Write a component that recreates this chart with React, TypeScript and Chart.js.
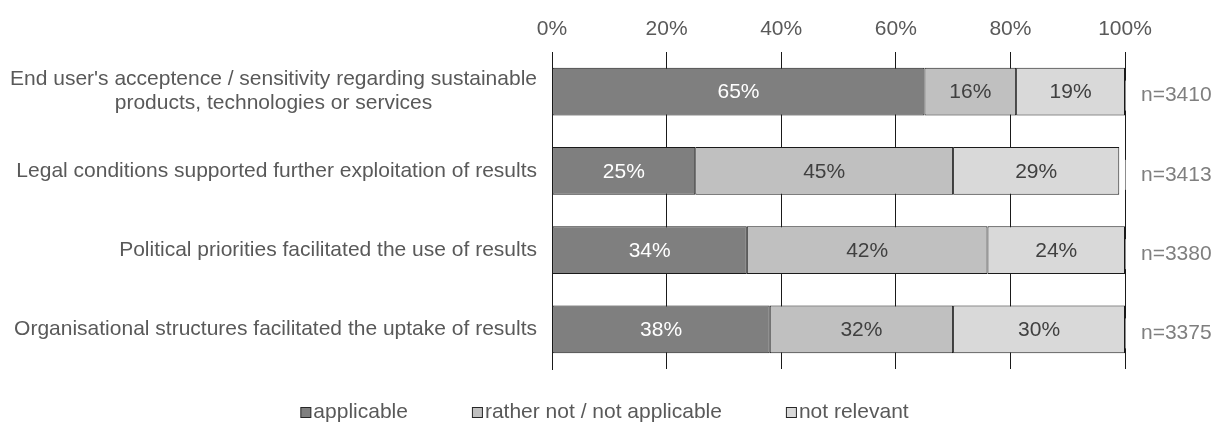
import { useEffect, useRef } from "react";
import { Chart, registerables } from "chart.js";

Chart.register(...registerables);

// Survey statements (multi-line labels are split into lines)
const categories: string[][] = [
  ["End user's acceptence / sensitivity regarding sustainable", "products, technologies or services"],
  ["Legal conditions supported further exploitation of results"],
  ["Political priorities facilitated the use of results"],
  ["Organisational structures facilitated the uptake of results"],
];

// Share of answers per statement, in percent
const applicable = [65, 25, 34, 38];
const ratherNot = [16, 45, 42, 32];
const notRelevant = [19, 29, 24, 30];

// Number of respondents per statement
const sampleSizes = ["n=3410", "n=3413", "n=3380", "n=3375"];

const seriesNames = ["applicable", "rather not / not applicable", "not relevant"];
const xTicks = [0, 20, 40, 60, 80, 100];

const FONT = '"Liberation Sans", Arial, sans-serif';
const SIZE = 21;
const TEXT = "#595959";
const LINE = "#1a1a1a";
const fills = ["#7f7f7f", "#c0c0c0", "#d9d9d9"];
const valueColors = ["#ffffff", "#404040", "#404040"];

const valueLabels = {
  id: "valueLabels",
  afterDatasetsDraw(chart: any) {
    const ctx = chart.ctx;
    ctx.save();
    ctx.font = `${SIZE}px ${FONT}`;
    ctx.textAlign = "center";
    ctx.textBaseline = "middle";
    chart.data.datasets.forEach((ds: any, di: number) => {
      const meta = chart.getDatasetMeta(di);
      meta.data.forEach((bar: any, i: number) => {
        const { x, y, base } = bar.getProps(["x", "y", "base"], true);
        ctx.fillStyle = valueColors[di];
        ctx.fillText(`${ds.data[i]}%`, (x + base) / 2, y + 1);
      });
    });
    ctx.restore();
  },
};

const sideLabels = {
  id: "sideLabels",
  afterDraw(chart: any) {
    const ctx = chart.ctx;
    const area = chart.chartArea;
    const yScale = chart.scales.y;
    ctx.save();
    ctx.font = `${SIZE}px ${FONT}`;
    ctx.textBaseline = "middle";

    // statement labels, right-aligned block with centred lines
    ctx.fillStyle = TEXT;
    ctx.textAlign = "center";
    const lineH = 24;
    categories.forEach((lines, i) => {
      const y = yScale.getPixelForValue(i);
      const maxW = Math.max(...lines.map((l) => ctx.measureText(l).width));
      const cx = area.left - 15 - maxW / 2;
      lines.forEach((l, j) => {
        ctx.fillText(l, cx, y + (j - (lines.length - 1) / 2) * lineH);
      });
    });

    // respondent counts on white boxes to the right of the bars
    ctx.textAlign = "left";
    sampleSizes.forEach((s, i) => {
      const y = yScale.getPixelForValue(i) + 4;
      ctx.fillStyle = "#ffffff";
      ctx.fillRect(area.right + 0.5, y - 15, 84, 30);
      ctx.fillStyle = "#7f7f7f";
      ctx.fillText(s, area.right + 16, y);
    });

    // legend
    const box = 10;
    const gap = 3;
    const spacing = 64;
    const widths = seriesNames.map((n) => box + gap + ctx.measureText(n).width);
    const total = widths.reduce((a, b) => a + b, 0) + spacing * (widths.length - 1);
    let x = chart.width / 2 - total / 2 - 6;
    const ly = 404;
    seriesNames.forEach((n, i) => {
      ctx.fillStyle = fills[i];
      ctx.fillRect(x + 0.5, ly - box / 2 + 0.5, box, box);
      ctx.strokeStyle = "#262626";
      ctx.lineWidth = 1;
      ctx.strokeRect(x + 0.5, ly - box / 2 + 0.5, box, box);
      ctx.fillStyle = TEXT;
      ctx.fillText(n, x + box + gap, ly);
      x += widths[i] + spacing;
    });
    ctx.restore();
  },
};

export default function App() {
  const ref = useRef<HTMLCanvasElement | null>(null);

  useEffect(() => {
    if (!ref.current) return;
    const chart = new Chart(ref.current, {
      type: "bar",
      data: {
        labels: categories.map((c) => c.join(" ")),
        datasets: [applicable, ratherNot, notRelevant].map((d, i) => ({
          label: seriesNames[i],
          data: d,
          backgroundColor: fills[i],
          borderColor: LINE,
          borderWidth: 1,
          borderSkipped: false,
          categoryPercentage: 0.6,
          barPercentage: 1,
        })),
      },
      options: {
        indexAxis: "y",
        animation: false,
        responsive: true,
        maintainAspectRatio: false,
        layout: { padding: { top: 0, right: 88, bottom: 56, left: 0 } },
        plugins: {
          legend: { display: false },
          tooltip: { enabled: false },
        },
        scales: {
          x: {
            position: "top",
            stacked: true,
            min: 0,
            max: 100,
            afterFit: (s: any) => {
              s.height = 44;
            },
            afterBuildTicks: (s: any) => {
              s.ticks = xTicks.map((v) => ({ value: v }));
            },
            ticks: {
              padding: 10,
              color: TEXT,
              font: { family: FONT, size: SIZE },
              callback: (v: any) => `${v}%`,
            },
            grid: { color: LINE, lineWidth: 1, drawTicks: false },
            border: { display: false },
          },
          y: {
            stacked: true,
            afterFit: (s: any) => {
              s.width = 544;
            },
            ticks: { display: false },
            grid: { display: false },
            border: { display: true, color: LINE, width: 1 },
          },
        },
      },
      plugins: [valueLabels, sideLabels],
    });
    return () => chart.destroy();
  }, []);

  return (
    <div style={{ position: "relative", width: "100%", height: 417 }}>
      <canvas ref={ref} />
    </div>
  );
}
